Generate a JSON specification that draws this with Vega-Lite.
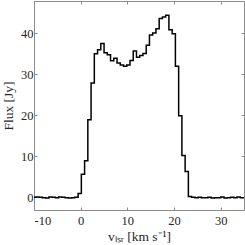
{
  "$schema": "https://vega.github.io/schema/vega-lite/v6.json",
  "width": 210,
  "height": 209,
  "autosize": {"type": "none"},
  "padding": {"left": 34, "top": 1, "right": 1, "bottom": 35},
  "background": "white",
  "config": {
    "font": "Liberation Serif",
    "view": {"stroke": null},
    "axis": {
      "grid": false,
      "domainColor": "#8c8c8c",
      "domainWidth": 1,
      "tickColor": "#8c8c8c",
      "tickSize": -3,
      "labelFont": "Liberation Serif",
      "labelFontSize": 12.5,
      "labelColor": "#262626",
      "titleFont": "Liberation Serif",
      "titleFontSize": 13.5,
      "titleFontWeight": "normal",
      "titleColor": "#262626"
    }
  },
  "datasets": {
    "spec": [
      {"v": -10.63, "flux": -0.1}, {"v": -9.933, "flux": 0.0}, {"v": -9.238, "flux": 0.1},
      {"v": -8.543, "flux": 0.0}, {"v": -7.848, "flux": -0.1}, {"v": -7.153, "flux": -0.2},
      {"v": -6.458, "flux": 0.1}, {"v": -5.763, "flux": 0.0}, {"v": -5.068, "flux": -0.1},
      {"v": -4.373, "flux": 0.1}, {"v": -3.678, "flux": 0.0}, {"v": -2.983, "flux": -0.1},
      {"v": -2.288, "flux": -0.2}, {"v": -1.593, "flux": -0.1}, {"v": -0.898, "flux": 0.0},
      {"v": -0.203, "flux": 0.9}, {"v": 0.493, "flux": 5.6}, {"v": 1.188, "flux": 8.9},
      {"v": 1.883, "flux": 18.9}, {"v": 2.578, "flux": 27.9}, {"v": 3.273, "flux": 35.0},
      {"v": 3.968, "flux": 36.0}, {"v": 4.663, "flux": 37.5}, {"v": 5.358, "flux": 35.3},
      {"v": 6.053, "flux": 34.8}, {"v": 6.748, "flux": 33.3}, {"v": 7.443, "flux": 33.9},
      {"v": 8.138, "flux": 32.8}, {"v": 8.833, "flux": 32.3}, {"v": 9.528, "flux": 32.0},
      {"v": 10.223, "flux": 32.3}, {"v": 10.918, "flux": 33.4}, {"v": 11.613, "flux": 35.7},
      {"v": 12.308, "flux": 34.2}, {"v": 13.003, "flux": 34.6}, {"v": 13.698, "flux": 35.1},
      {"v": 14.393, "flux": 37.1}, {"v": 15.088, "flux": 39.6}, {"v": 15.783, "flux": 40.1},
      {"v": 16.478, "flux": 41.1}, {"v": 17.173, "flux": 43.6}, {"v": 17.868, "flux": 44.0},
      {"v": 18.563, "flux": 44.4}, {"v": 19.258, "flux": 40.9}, {"v": 19.953, "flux": 39.9},
      {"v": 20.648, "flux": 32.0}, {"v": 21.343, "flux": 19.9}, {"v": 22.038, "flux": 10.2},
      {"v": 22.733, "flux": 6.3}, {"v": 23.428, "flux": 0.2}, {"v": 24.123, "flux": 0.0},
      {"v": 24.818, "flux": -0.1}, {"v": 25.513, "flux": 0.0}, {"v": 26.208, "flux": -0.1},
      {"v": 26.903, "flux": -0.1}, {"v": 27.598, "flux": 0.0}, {"v": 28.293, "flux": -0.2},
      {"v": 28.988, "flux": -0.1}, {"v": 29.683, "flux": -0.1}, {"v": 30.378, "flux": 0.1},
      {"v": 31.073, "flux": -0.2}, {"v": 31.768, "flux": -0.1}, {"v": 32.463, "flux": 0.0},
      {"v": 33.158, "flux": -0.1}, {"v": 33.853, "flux": 0.1}, {"v": 34.548, "flux": -0.1},
      {"v": 35.243, "flux": -0.1}
    ]
  },
  "layer": [
    {
      "data": {"name": "spec"},
      "mark": {"type": "line", "interpolate": "step", "color": "black", "strokeWidth": 1.5, "clip": true},
      "encoding": {
        "x": {
          "field": "v", "type": "quantitative",
          "scale": {"domain": [-10, 35], "nice": false, "zero": false},
          "axis": {"values": [-10, 0, 10, 20, 30], "labelExpr": "'' + datum.value", "labelPadding": 7, "title": "vₗₛᵣ [km s⁻¹]", "titlePadding": 3}
        },
        "y": {
          "field": "flux", "type": "quantitative",
          "scale": {"domain": [-3.1, 47.9], "nice": false, "zero": false},
          "axis": {"values": [0, 10, 20, 30, 40], "labelPadding": 4, "title": "Flux [Jy]", "titlePadding": 5}
        }
      }
    },
    {
      "data": {"name": "spec"},
      "mark": {"type": "line", "interpolate": "step", "opacity": 0, "clip": true},
      "encoding": {
        "x": {"field": "v", "type": "quantitative", "axis": {"orient": "top", "values": [-10, 0, 10, 20, 30], "labels": false, "title": null}},
        "y": {"field": "flux", "type": "quantitative", "axis": {"orient": "right", "values": [0, 10, 20, 30, 40], "labels": false, "title": null}}
      }
    },
    {
      "mark": {"type": "text", "align": "left", "baseline": "top", "dx": 5, "dy": 1, "fontSize": 12.5, "color": "#262626", "font": "Liberation Serif"},
      "encoding": {
        "x": {"datum": -10, "type": "quantitative", "axis": null},
        "y": {"datum": 47.9, "type": "quantitative", "axis": null},
        "text": {"value": "R Crt"}
      }
    },
    {
      "mark": {"type": "text", "align": "right", "baseline": "top", "dx": -1, "dy": 1, "fontSize": 12.5, "lineHeight": 13, "lineBreak": "\n", "color": "#262626", "font": "Liberation Serif"},
      "encoding": {
        "x": {"datum": 35, "type": "quantitative", "axis": null},
        "y": {"datum": 47.9, "type": "quantitative", "axis": null},
        "text": {"value": "ALMA-ACA\nCO(3-2)"}
      }
    }
  ],
  "resolve": {"axis": {"x": "independent", "y": "independent"}}
}
